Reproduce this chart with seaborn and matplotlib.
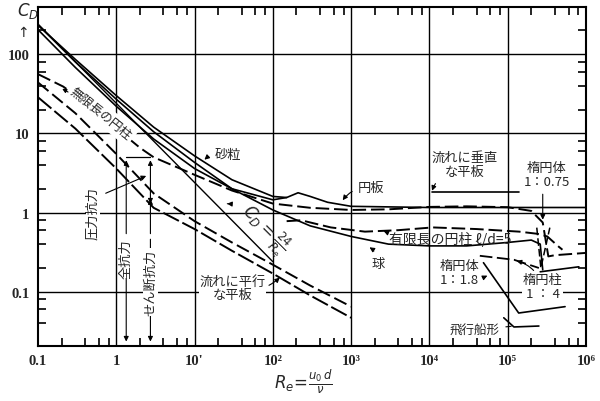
import numpy as np
import matplotlib
matplotlib.use("Agg")
import matplotlib.pyplot as plt
import seaborn as sns

# --- data (Re, C_D) ---
stokes_re = [0.1, 100]
stokes_cd = [240, 0.24]

sand_re = [0.1, 0.3, 1, 3, 10, 30, 100, 150]
sand_cd = [232, 86, 30, 12, 5.2, 2.6, 1.6, 1.55]

sphere_re = [0.1, 0.3, 1, 3, 10, 30, 100, 300, 1e3, 3e3, 1e4, 3e4, 1e5, 2e5, 2.6e5, 2.8e5]
sphere_cd = [236, 80, 27, 10.5, 4.3, 2.0, 1.08, 0.68, 0.5, 0.4, 0.38, 0.38, 0.42, 0.45, 0.4, 0.19]

disk_re = [0.1, 0.3, 1, 3, 10, 30, 100, 150, 210, 300, 500, 1e3, 1e4, 1e5, 1e6]
disk_cd = [204, 68, 22, 8.5, 3.6, 2.0, 1.45, 1.55, 1.78, 1.6, 1.35, 1.2, 1.16, 1.16, 1.16]

cyl_re = [0.1, 0.21, 0.5, 1, 2, 3, 10, 30, 100, 300, 1e3, 3e3, 1e4, 3e4, 1e5, 2e5, 2.8e5,
          3.3e5, 4e5, 1e6]
cyl_cd = [56, 39, 21, 11.6, 6.6, 5.0, 3.0, 1.9, 1.3, 1.15, 1.08, 1.1, 1.18, 1.2, 1.17, 1.05,
          0.75, 0.28, 0.29, 0.31]

fincyl_re = [150, 230, 550, 1500, 4e3, 1.1e4, 4e4, 1.4e5, 2.4e5, 3.2e5, 4.5e5, 5e5]
fincyl_cd = [0.78, 0.8, 0.65, 0.575, 0.6, 0.65, 0.62, 0.575, 0.54, 0.5, 0.37, 0.34]

ell075_re = [2.35e5, 2.65e5, 3.45e5]
ell075_cd = [0.646, 0.2, 0.646]

plate_a_re = [0.1, 0.3, 1, 3, 10, 30, 100, 300, 1e3]
plate_a_cd = [44, 18, 5.5, 1.75, 0.78, 0.42, 0.22, 0.12, 0.065]
plate_b_re = [0.1, 0.3, 1, 3, 10, 30, 100, 300, 1e3]
plate_b_cd = [28.6, 11.5, 3.6, 1.15, 0.62, 0.33, 0.17, 0.09, 0.047]

normal_re = [1.07e4, 1.4e5]
normal_cd = [1.84, 1.84]

ell18_re = [4.9e4, 1.38e5, 5.4e5]
ell18_cd = [0.233, 0.054, 0.065]

ecyl_re = [4.4e4, 1.2e5, 2.5e5]
ecyl_cd = [0.285, 0.254, 0.2]
ecyl2_re = [2.6e5, 8.1e5]
ecyl2_cd = [0.179, 0.207]

ship_re = [8.9e4, 1.2e5, 2.5e5]
ship_cd = [0.047, 0.036, 0.037]

xtick_vals = [0.1, 1, 10, 1e2, 1e3, 1e4, 1e5, 1e6]
xtick_text = ["0.1", "1", "10'", "10²", "10³", "10⁴", "10⁵", "10⁶"]
ytick_vals = [0.1, 1, 10, 100]
ytick_text = ["0.1", "1", "10", "100"]

sns.set_theme(style="white")
plt.rcParams["font.family"] = ["Noto Sans CJK JP", "DejaVu Sans"]
JP = ["Noto Sans CJK JP", "DejaVu Sans"]
SERIF = ["Liberation Serif", "DejaVu Serif"]

fig = plt.figure(figsize=(6.0, 4.02), dpi=100)
ax = fig.add_axes([0.0633, 0.1368, 0.9134, 0.8433])
ax.set_xscale("log")
ax.set_yscale("log")
ax.set_xlim(0.1, 1e6)
ax.set_ylim(0.0207, 394)

LONG = (0, (7, 2.5))


def draw(x, y, ls="-", lw=1.2):
    sns.lineplot(x=x, y=y, ax=ax, color="black", lw=lw, linestyle=ls,
                 estimator=None, sort=False, legend=False)


draw(stokes_re, stokes_cd, lw=1.0)
draw(sand_re, sand_cd)
draw(sphere_re, sphere_cd)
draw(disk_re, disk_cd)
draw(cyl_re, cyl_cd, ls=LONG, lw=1.4)
draw(fincyl_re, fincyl_cd, ls=LONG, lw=1.4)
draw(ell075_re, ell075_cd, ls=(0, (5, 2)), lw=1.1)
draw(plate_a_re, plate_a_cd, ls=LONG, lw=1.4)
draw(plate_b_re, plate_b_cd, ls=(0, (9, 2)), lw=1.4)
draw(normal_re, normal_cd)
draw(ell18_re, ell18_cd)
draw(ecyl_re, ecyl_cd, ls=LONG, lw=1.3)
draw(ecyl2_re, ecyl2_cd)
draw(ship_re, ship_cd)

# grid and ticks
for v in xtick_vals[1:-1]:
    ax.axvline(v, color="black", lw=1.0, zorder=0)
for v in ytick_vals:
    ax.axhline(v, color="black", lw=1.0, zorder=0)
for s in ax.spines.values():
    s.set_color("black")
    s.set_linewidth(1.5)

ax.set_xticks(xtick_vals)
ax.set_xticklabels(xtick_text, family=SERIF, fontweight="bold", fontsize=10.5)
ax.set_yticks(ytick_vals)
ax.set_yticklabels(ytick_text, family=SERIF, fontweight="bold", fontsize=10.5)
ax.xaxis.set_minor_locator(matplotlib.ticker.LogLocator(10, subs=[2, 4, 6, 8], numticks=20))
ax.yaxis.set_minor_locator(matplotlib.ticker.LogLocator(10, subs=[2, 4, 6, 8], numticks=20))
ax.xaxis.set_minor_formatter(matplotlib.ticker.NullFormatter())
ax.yaxis.set_minor_formatter(matplotlib.ticker.NullFormatter())
ax.tick_params(which="major", length=0, pad=6)
ax.tick_params(which="minor", direction="in", length=6, width=1.2, color="black",
               top=True, right=True, bottom=True, left=True)

# axis titles
fig.text(0.028, 0.997, r"$C_D$", fontsize=12, va="top", ha="left", family="DejaVu Serif")
fig.text(0.038, 0.935, "↑", fontsize=10, va="top", ha="center", family="DejaVu Sans")
fig.text(0.505, 0.05, r"$R_e\!=\!\frac{u_0\,d}{\nu}$", fontsize=12, ha="center", va="center",
         family="DejaVu Serif")

wbg = dict(facecolor="white", edgecolor="none", pad=0.5)
arr = dict(arrowstyle="-|>", color="black", lw=0.8, mutation_scale=7,
           connectionstyle="arc3,rad=0.3")
straight = dict(arrowstyle="-|>", color="black", lw=0.8, mutation_scale=7)


def label(txt, xy, xytext, **kw):
    ax.annotate(txt, xy=xy, xytext=xytext, fontsize=kw.pop("fontsize", 9.5), family=JP,
                ha="center", va="center", arrowprops=arr, zorder=5, **kw)


# inline label sitting on the infinite-cylinder curve
ax.text(0.63, 18, "無限長の円柱", rotation=-39, fontsize=9, family=JP, ha="center",
        va="center", zorder=6, bbox=dict(facecolor="white", edgecolor="none", pad=2.5))
ax.annotate("", xy=(0.19, 38), xytext=(0.26, 32), zorder=6,
            arrowprops=dict(arrowstyle="-|>", color="black", lw=0.8, mutation_scale=6))
label("砂粒", (12.6, 4.4), (26.5, 5.4))
label("円板", (745, 1.34), (1800, 2.07))
label("流れに垂直\nな平板", (1.05e4, 1.75), (2.8e4, 4.05), linespacing=1.1)
ax.text(3.16e5, 3.03, "楕円体\n1：0.75", fontsize=9.5, family=JP, ha="center", va="center",
        linespacing=1.1)
ax.annotate("", xy=(2.8e5, 0.75), xytext=(2.8e5, 1.85), arrowprops=straight)
ax.text(1.86e4, 0.475, "有限長の円柱 ℓ/d=5", fontsize=10, family=JP, ha="center",
        va="center")
ax.annotate("", xy=(2400, 0.6), xytext=(3000, 0.5), arrowprops=arr)
label("球", (1600, 0.38), (2200, 0.23))
label("楕円体\n1：1.8", (5.5e4, 0.16), (2.4e4, 0.174), linespacing=1.1)
label("楕円柱\n1 ： 4", (1.2e5, 0.25), (2.8e5, 0.116), linespacing=1.1, bbox=wbg)
ax.annotate("飛行船形", xy=(1.2e5, 0.037), xytext=(3.8e4, 0.033), fontsize=9, family=JP,
            ha="center", va="center",
            arrowprops=dict(arrowstyle="-", color="black", lw=0.8))
label("流れに平行\nな平板", (130, 0.16), (30.7, 0.112), linespacing=1.1, bbox=wbg)
ax.annotate(r"$C_D=\frac{24}{R_e}$", xy=(24, 1.3), xytext=(78, 0.62), fontsize=12,
            rotation=-45, ha="center", va="center", family="DejaVu Serif", arrowprops=arr)

# drag component markers
x_tot, x_sh, y_top = 1.34, 2.73, 4.97
bot = 0.0207
ax.plot([x_tot, x_sh], [y_top, y_top], color="black", lw=0.9)
for xx in (x_tot, x_sh):
    ax.annotate("", xy=(xx, y_top), xytext=(xx, 0.5), arrowprops=straight)
    ax.annotate("", xy=(xx, bot * 1.05), xytext=(xx, 0.5), arrowprops=straight)
ax.annotate("", xy=(x_sh, 1.6), xytext=(x_sh, 1.3), arrowprops=straight)
ax.annotate("", xy=(x_sh, 1.2), xytext=(x_sh, 1.45), arrowprops=straight)
ax.text(0.5, 1.0, "圧力抗力", rotation=90, fontsize=9.5, family=JP, ha="center", va="center",
        bbox=wbg)
ax.text(x_tot, 0.27, "全抗力", rotation=90, fontsize=9.5, family=JP, ha="center", va="center",
        bbox=wbg)
ax.text(x_sh, 0.134, "せん断抗力", rotation=90, fontsize=9.5, family=JP, ha="center",
        va="center", bbox=wbg)
ax.annotate("", xy=(2.6, 3.0), xytext=(0.68, 1.7), arrowprops=straight)

fig.savefig("out.png", dpi=100, facecolor="white")
